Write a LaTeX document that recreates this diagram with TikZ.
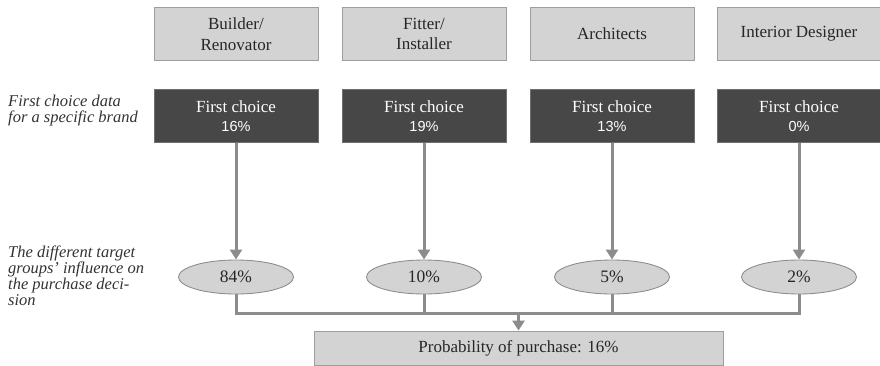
\documentclass[tikz,border=0pt]{standalone}
\usepackage{fontspec}
\setmainfont{Liberation Serif}
\newfontfamily\labelsans{Liberation Sans}
\usetikzlibrary{arrows.meta,shapes.geometric}
\definecolor{groupfill}{HTML}{D3D3D3}
\definecolor{boxedge}{HTML}{9E9E9E}
\definecolor{darkfill}{HTML}{474747}
\definecolor{linkgray}{HTML}{8C8C8C}
\definecolor{sidetext}{HTML}{333333}
\tikzset{
  groupbox/.style={draw=boxedge, line width=0.9pt, fill=groupfill, minimum width=164pt, minimum height=53pt,
    inner sep=0pt, align=center, font=\fontsize{17}{20.5}\selectfont, text=black!85},
  choicebox/.style={draw=boxedge!70!black, line width=0.9pt, fill=darkfill, minimum width=164pt, minimum height=53pt,
    inner sep=0pt, align=center, text=white, font=\fontsize{17}{19.5}\selectfont},
  sharebubble/.style={ellipse, draw=boxedge!90!black, line width=0.9pt, fill=groupfill, minimum width=115pt,
    minimum height=34pt, inner sep=0pt, font=\fontsize{17.5}{19}\selectfont, text=black!85},
  resultbox/.style={draw=boxedge, line width=0.9pt, fill=groupfill, minimum width=409pt, minimum height=34pt,
    inner sep=0pt, font=\fontsize{17}{19}\selectfont, text=black!85},
  sidelabel/.style={anchor=north west, align=left, inner sep=0pt, text=sidetext,
    font=\fontsize{16.5}{16}\selectfont\itshape},
  link/.style={draw=linkgray, line width=3pt},
  flow/.style={link, -{Triangle[width=12pt,length=10pt]}},
}
\newcommand{\choicetext}[1]{First choice\\{\labelsans\fontsize{14.5}{16}\selectfont #1}}
\begin{document}
\begin{tikzpicture}[x=1pt,y=-1pt]
  \useasboundingbox (0,0) rectangle (880,366);

  % target groups
  \node[groupbox] (g1) at (236,34) {Builder/\\Renovator};
  \node[groupbox] (g2) at (424,34) {Fitter/\\Installer};
  \node[groupbox] (g3) at (612,34) {Architects};
  \node[groupbox] (g4) at (799,34) {Interior Designer};

  % first choice shares
  \node[choicebox] (c1) at (236,116) {\choicetext{16\%}};
  \node[choicebox] (c2) at (424,116) {\choicetext{19\%}};
  \node[choicebox] (c3) at (612,116) {\choicetext{13\%}};
  \node[choicebox] (c4) at (799,116) {\choicetext{0\%}};

  % influence of each group
  \node[sharebubble] (e1) at (236,277) {84\%};
  \node[sharebubble] (e2) at (424,277) {10\%};
  \node[sharebubble] (e3) at (612,277) {5\%};
  \node[sharebubble] (e4) at (799,277) {2\%};

  % result
  \node[resultbox] (p) at (518.5,348) {Probability of purchase: 16\%};

  % row captions
  \node[sidelabel] (l1) at (8,95) {First choice data\\for a specific brand};
  \node[sidelabel] (l2) at (8,246) {The different target\\groups' influence on\\the purchase deci-\\sion};

  % connectors
  \foreach \i in {1,...,4} \draw[flow] (c\i.south) -- (e\i.north);
  \coordinate (join) at (p.north |- 0,313);
  \draw[link] (e1.south) |- (e4.south |- join) -- (e4.south);
  \foreach \i in {2,3} \draw[link] (e\i.south) -- (e\i.south |- join);
  \draw[flow] (join) -- (p.north);
\end{tikzpicture}
\end{document}
